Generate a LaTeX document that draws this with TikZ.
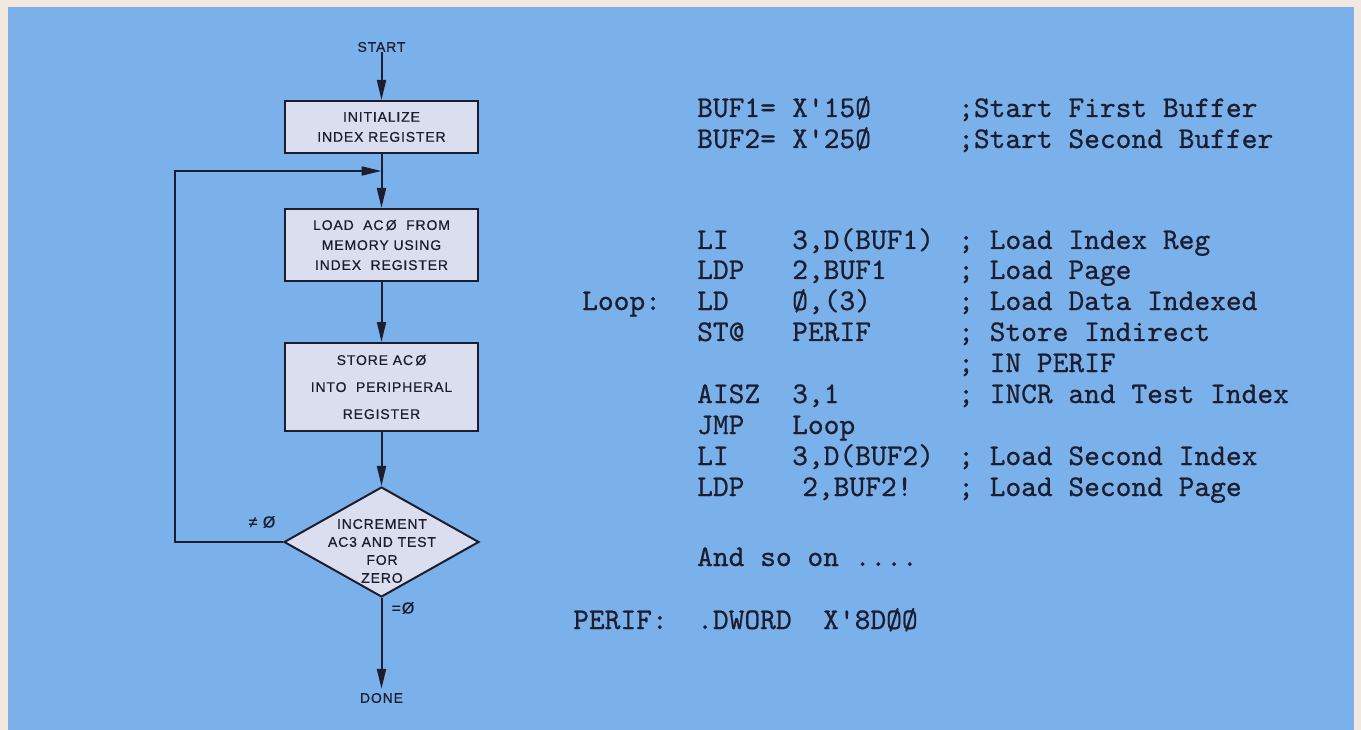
\documentclass[tikz,border=0pt]{standalone}
\usepackage{fontspec}
\setsansfont{Liberation Sans}[FakeBold=0.6, LetterSpace=6]
\setmonofont{lmmono10-regular.otf}[FakeBold=0.7]
\usetikzlibrary{arrows.meta,shapes.geometric}
\definecolor{paper}{RGB}{241,233,224}
\definecolor{bluebg}{RGB}{123,177,235}
\definecolor{boxfill}{RGB}{218,222,239}
\definecolor{ink}{RGB}{28,30,48}
\begin{document}
\begin{tikzpicture}[x=1pt,y=-1pt,
  fbox/.style={draw=ink, fill=boxfill, line width=2pt, minimum width=193pt, inner sep=0pt,
    font=\sffamily\fontsize{14}{20}\selectfont, align=center, text=ink},
  flow/.style={draw=ink, line width=2pt, -{Triangle[length=20pt,width=9pt]}},
  flbl/.style={font=\sffamily\fontsize{14}{18}\selectfont, text=ink, inner sep=0pt},
  code/.style={anchor=base west, inner sep=0pt, font=\ttfamily\fontsize{30}{31}\selectfont, text=ink}]
\fill[paper] (0,0) rectangle (1361,730);
\useasboundingbox (0,0) rectangle (1361,730);
\fill[bluebg] (8,7) rectangle (1354,730);

% flowchart
\node[flbl] (start) at (381.5,47) {START};
\node[fbox, minimum height=52pt] (init) at (381.5,127) {INITIALIZE\\INDEX REGISTER};
\node[fbox, minimum height=72pt] (load) at (381.5,245) {LOAD\ \ AC\,Ø\ \ FROM\\MEMORY\ USING\\INDEX\ \ REGISTER};
\node[fbox, minimum height=88pt, font=\sffamily\fontsize{14}{27}\selectfont] (store) at (381.5,387) {STORE\ AC\,Ø\\INTO\ \ PERIPHERAL\\REGISTER};
\node[draw=ink, fill=boxfill, line width=2pt, diamond, minimum width=195pt, minimum height=110pt, inner sep=0pt] (test) at (381.5,542) {};
\node[flbl, align=center, font=\sffamily\fontsize{14}{18}\selectfont] (testtxt) at (382,551) {INCREMENT\\AC3 AND TEST\\FOR\\ZERO};
\node[flbl] (done) at (381.5,698) {DONE};
\node[flbl, font=\sffamily\fontsize{16}{18}\selectfont] (ne) at (262,522) {≠\ Ø};
\node[flbl, font=\sffamily\fontsize{16}{18}\selectfont] (eq) at (403,608) {=Ø};

\coordinate (join) at (381.5,171);
\coordinate (loopbl) at (175,542);
\coordinate (looptl) at (175,171);

\draw[flow] (start) -- (init);
\draw[flow] (init) -- (load);
\draw[flow] (load) -- (store);
\draw[flow] (store) -- (test);
\draw[flow, shorten >=4pt] (test) -- (done);
\draw[flow] (test.west) -- (loopbl) -- (looptl) -- (join);

% code listing
\node[code] (b1a) at (697,117) {BUF1=};
\node[code] (b1b) at (792,117) {X'15Ø};
\node[code] (b1c) at (958,117) {;Start First Buffer};
\node[code] (b2a) at (697,148) {BUF2=};
\node[code] (b2b) at (792,148) {X'25Ø};
\node[code] (b2c) at (958,148) {;Start Second Buffer};

\node[code] (r1a) at (697,249) {LI};
\node[code] (r1b) at (792,249) {3,D(BUF1)};
\node[code] (r1c) at (958,249) {; Load Index Reg};
\node[code] (r2a) at (697,279) {LDP};
\node[code] (r2b) at (792,279) {2,BUF1};
\node[code] (r2c) at (958,279) {; Load Page};
\node[code] (r3l) at (582,310) {Loop:};
\node[code] (r3a) at (697,310) {LD};
\node[code] (r3b) at (792,310) {Ø,(3)};
\node[code] (r3c) at (958,310) {; Load Data Indexed};
\node[code] (r4a) at (697,341) {ST@};
\node[code] (r4b) at (792,341) {PERIF};
\node[code] (r4c) at (958,341) {; Store Indirect};
\node[code] (r5c) at (958,372) {; IN PERIF};
\node[code] (r6a) at (697,403) {AISZ};
\node[code] (r6b) at (792,403) {3,1};
\node[code] (r6c) at (958,403) {; INCR and Test Index};
\node[code] (r7a) at (697,434) {JMP};
\node[code] (r7b) at (792,434) {Loop};
\node[code] (r8a) at (697,465) {LI};
\node[code] (r8b) at (792,465) {3,D(BUF2)};
\node[code] (r8c) at (958,465) {; Load Second Index};
\node[code] (r9a) at (697,496) {LDP};
\node[code] (r9b) at (802,496) {2,BUF2!};
\node[code] (r9c) at (958,496) {; Load Second Page};

\node[code] (etc) at (697,566) {And so on ....};
\node[code] (pl) at (573,629) {PERIF:};
\node[code] (pa) at (697,629) {.DWORD};
\node[code] (pb) at (823,629) {X'8DØØ};
\end{tikzpicture}
\end{document}
